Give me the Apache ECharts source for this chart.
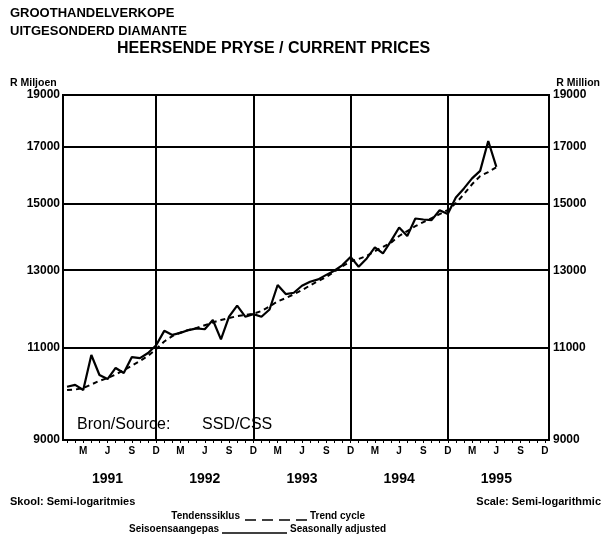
<!DOCTYPE html>
<html><head><meta charset="utf-8">
<script src="https://cdn.jsdelivr.net/npm/echarts@6/dist/echarts.min.js"></script>
<style>html,body{margin:0;padding:0;background:#fff}#c{width:605px;height:540px}</style>
</head><body><div id="c"></div>
<script>
// ---- data ----
const years = ['1991', '1992', '1993', '1994', '1995'];
const monthNames = ['Jan','Feb','Mar','Apr','May','Jun','Jul','Aug','Sep','Oct','Nov','Dec'];
const quarterLetters = { Mar: 'M', Jun: 'J', Sep: 'S', Dec: 'D' };
const months = [];
years.forEach(y => monthNames.forEach(m => months.push(m + ' ' + y)));

// Seisoensaangepas / Seasonally adjusted (R million), Jan 1991 - Jun 1995
const seasonallyAdjusted = [
  10100, 10140, 10030, 10820, 10360, 10270, 10520, 10405, 10770, 10745, 10865, 11050,
  11400, 11300, 11350, 11420, 11460, 11440, 11670, 11190, 11755, 12040, 11755, 11820,
  11755, 11940, 12590, 12345, 12380, 12570, 12680, 12745, 12870, 12985, 13145, 13380,
  13100, 13335, 13660, 13480, 13855, 14260, 14000, 14540, 14510, 14490, 14805, 14680,
  15220, 15520, 15860, 16120, 17200, 16260
];
// Tendenssiklus / Trend cycle (R million), Jan 1991 - Jun 1995
const trendCycle = [
  10030, 10040, 10070, 10150, 10230, 10290, 10370, 10470, 10570, 10680, 10800, 10960,
  11140, 11270, 11360, 11420, 11470, 11540, 11610, 11670, 11720, 11770, 11800, 11830,
  11900, 12020, 12150, 12240, 12340, 12450, 12580, 12700, 12810, 12960, 13110, 13250,
  13320, 13410, 13550, 13670, 13800, 14000, 14150, 14300, 14430, 14550, 14680, 14810,
  15030, 15330, 15660, 15940, 16080, 16250
];
const yTicks = [9000, 11000, 13000, 15000, 17000, 19000];
const yearGridMonths = ['Dec 1991', 'Dec 1992', 'Dec 1993', 'Dec 1994'];

// ---- chart ----
const FONT = '"Liberation Sans", Arial, sans-serif';
const chart = echarts.init(document.getElementById('c'), null, { renderer: 'canvas' });

const gridLineStyle = { color: '#000', width: 2, type: 'solid' };
const hLinesLeft = yTicks.map(v => ({ yAxis: v }));
const vLines = yearGridMonths.map(m => ({ xAxis: m, label: { show: false } }));

function tickLabel(p) { return String(Math.round(p.value)); }

const option = {
  backgroundColor: '#fff',
  animation: false,
  grid: { left: 63, right: 56, top: 95, bottom: 100, show: true, borderColor: '#000', borderWidth: 2 },
  xAxis: [{
    type: 'category', data: months, boundaryGap: true,
    axisLine: { show: true, lineStyle: { color: '#000', width: 2 } },
    axisTick: { show: true, interval: 0, alignWithLabel: true, length: 3, lineStyle: { color: '#000', width: 1 } },
    axisLabel: {
      interval: 0, margin: 6, color: '#000', fontFamily: FONT, fontWeight: 'bold', fontSize: 10,
      formatter: v => quarterLetters[v.split(' ')[0]] || ''
    },
    splitLine: { show: false }
  }, {
    type: 'category', data: months, boundaryGap: true, position: 'bottom', offset: 24,
    axisLine: { show: false }, axisTick: { show: false }, splitLine: { show: false },
    axisLabel: {
      interval: 0, margin: 8, color: '#000', fontFamily: FONT, fontWeight: 'bold', fontSize: 14,
      formatter: v => v.indexOf('Jun') === 0 ? v.split(' ')[1] : ''
    }
  }],
  yAxis: [{
    type: 'log', logBase: 10, min: 9000, max: 19000,
    axisLine: { show: false }, axisTick: { show: false }, axisLabel: { show: false }, splitLine: { show: false }
  }],
  series: [{
    name: 'Seasonally adjusted', type: 'line', data: seasonallyAdjusted,
    showSymbol: false, symbol: 'none',
    lineStyle: { color: '#000', width: 2.2, type: 'solid' },
    markLine: {
      symbol: 'none', silent: true, animation: false, lineStyle: gridLineStyle,
      label: { position: 'start', distance: 3, formatter: tickLabel, color: '#000', fontFamily: FONT, fontWeight: 'bold', fontSize: 12 },
      data: hLinesLeft.concat(vLines)
    }
  }, {
    name: 'Trend cycle', type: 'line', data: trendCycle,
    showSymbol: false, symbol: 'none',
    lineStyle: { color: '#000', width: 2, type: [5, 4] },
    markLine: {
      symbol: 'none', silent: true, animation: false, lineStyle: gridLineStyle,
      label: { position: 'end', distance: 4, formatter: tickLabel, color: '#000', fontFamily: FONT, fontWeight: 'bold', fontSize: 12 },
      data: yTicks.map(v => ({ yAxis: v }))
    }
  }],
  graphic: [
    { type: 'text', x: 10, y: 13, style: { text: 'GROOTHANDELVERKOPE', font: 'bold 13px ' + FONT, fill: '#000', verticalAlign: 'middle' } },
    { type: 'text', x: 10, y: 31, style: { text: 'UITGESONDERD DIAMANTE', font: 'bold 13px ' + FONT, fill: '#000', verticalAlign: 'middle' } },
    { type: 'text', x: 117, y: 49, style: { text: 'HEERSENDE PRYSE / CURRENT PRICES', font: 'bold 16px ' + FONT, fill: '#000', verticalAlign: 'middle' } },
    { type: 'text', x: 10, y: 83, style: { text: 'R Miljoen', font: 'bold 10.5px ' + FONT, fill: '#000', verticalAlign: 'middle' } },
    { type: 'text', x: 600, y: 83, style: { text: 'R Million', font: 'bold 10.5px ' + FONT, fill: '#000', align: 'right', verticalAlign: 'middle' } },
    { type: 'text', x: 77, y: 425, z: 10, style: { text: 'Bron/Source:', font: '16px ' + FONT, fill: '#000', verticalAlign: 'middle' } },
    { type: 'text', x: 202, y: 425, z: 10, style: { text: 'SSD/CSS', font: '16px ' + FONT, fill: '#000', verticalAlign: 'middle' } },
    { type: 'text', x: 10, y: 502, style: { text: 'Skool: Semi-logaritmies', font: 'bold 11px ' + FONT, fill: '#000', verticalAlign: 'middle' } },
    { type: 'text', x: 601, y: 502, style: { text: 'Scale: Semi-logarithmic', font: 'bold 11px ' + FONT, fill: '#000', align: 'right', verticalAlign: 'middle' } },
    { type: 'text', x: 240, y: 516, style: { text: 'Tendenssiklus', font: 'bold 10px ' + FONT, fill: '#000', align: 'right', verticalAlign: 'middle' } },
    { type: 'line', shape: { x1: 245, y1: 520, x2: 307, y2: 520 }, style: { stroke: '#000', lineWidth: 1.5, lineDash: [11, 6] } },
    { type: 'text', x: 310, y: 516, style: { text: 'Trend cycle', font: 'bold 10px ' + FONT, fill: '#000', verticalAlign: 'middle' } },
    { type: 'text', x: 219, y: 529, style: { text: 'Seisoensaangepas', font: 'bold 10px ' + FONT, fill: '#000', align: 'right', verticalAlign: 'middle' } },
    { type: 'line', shape: { x1: 222, y1: 533, x2: 287, y2: 533 }, style: { stroke: '#000', lineWidth: 1.5 } },
    { type: 'text', x: 290, y: 529, style: { text: 'Seasonally adjusted', font: 'bold 10px ' + FONT, fill: '#000', verticalAlign: 'middle' } }
  ]
};
chart.setOption(option);
</script>
</body></html>
